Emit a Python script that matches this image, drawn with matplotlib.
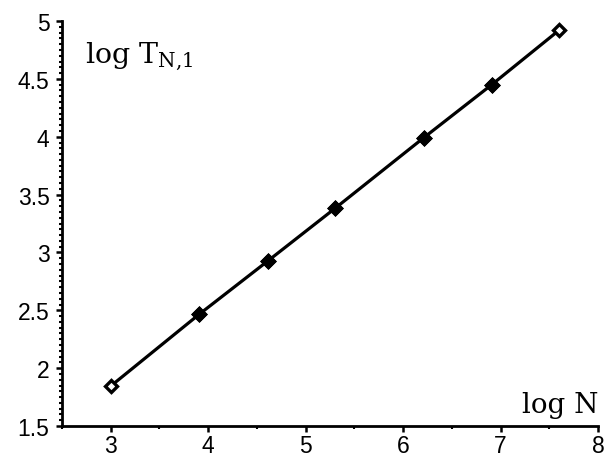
import numpy as np
import matplotlib.pyplot as plt
from matplotlib.ticker import MultipleLocator

# data: log N vs log T_{N,1}
log_n = np.array([3.00, 3.91, 4.61, 5.30, 6.21, 6.91, 7.60])
log_t = np.array([1.845, 2.467, 2.925, 3.38, 3.99, 4.45, 4.92])

x_lim = (2.5, 8.0)
y_lim = (1.5, 5.0)

plt.rcParams['mathtext.fontset'] = 'dejavuserif'

fig = plt.figure(figsize=(6.05, 4.6), dpi=100)
ax = fig.add_axes([62 / 605, 33 / 460, 536 / 605, 405 / 460])

ax.plot(log_n, log_t, color='black', lw=2.3, marker='D', ms=6.5,
        mfc='white', mec='black', mew=2.4)
# inner points look solid where the line runs through them
ax.plot(log_n[1:-1], log_t[1:-1], ls='', marker='D', ms=6.5,
        mfc='black', mec='black', mew=2.4)

ax.set_xlim(*x_lim)
ax.set_ylim(*y_lim)

ax.spines['top'].set_visible(False)
ax.spines['right'].set_visible(False)
ax.spines['left'].set_linewidth(2)
ax.spines['bottom'].set_linewidth(2)

ax.xaxis.set_major_locator(MultipleLocator(1))
ax.xaxis.set_minor_locator(MultipleLocator(0.5))
ax.yaxis.set_major_locator(MultipleLocator(0.5))
ax.yaxis.set_minor_locator(MultipleLocator(0.05))
ax.set_xticks([3, 4, 5, 6, 7, 8])
ax.set_yticks([1.5, 2, 2.5, 3, 3.5, 4, 4.5, 5])
ax.set_yticklabels(['1.5', '2', '2.5', '3', '3.5', '4', '4.5', '5'])

ax.tick_params(which='major', length=4, width=1.8, labelsize=16.5,
               direction='out', pad=2)
ax.tick_params(axis='y', which='major', pad=5)
ax.tick_params(which='minor', length=2, width=1.5, direction='out')
for lab in ax.get_xticklabels() + ax.get_yticklabels():
    lab.set_fontfamily('Liberation Sans')

ax.text(85, 460 - 63, r'log T$_{\rm N{,}1}$', transform=None, fontsize=20.5,
        family='DejaVu Serif', va='baseline', ha='left')
ax.text(599, 460 - 413, 'log N', transform=None, fontsize=20,
        family='DejaVu Serif', va='baseline', ha='right')

fig.savefig('out.png', dpi=100)
